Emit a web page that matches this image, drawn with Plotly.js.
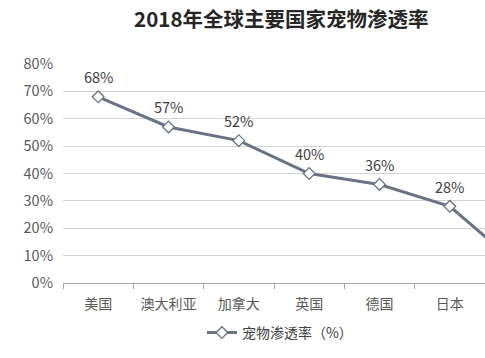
<!DOCTYPE html>
<html>
<head>
<meta charset="utf-8">
<script src="https://cdn.plot.ly/plotly-3.0.1.min.js"></script>
<style>html,body{margin:0;padding:0;background:#fff;overflow:hidden}</style>
</head>
<body>
<div id="chart" style="width:485px;height:358px"></div>
<script>
const categories = ["美国", "澳大利亚", "加拿大", "英国", "德国", "日本", "中国"];
const penetration = [68, 57, 52, 40, 36, 28, 6];
const valueLabels = ["68%", "57%", "52%", "40%", "36%", "28%", "6%"];
const yTicks = [0, 10, 20, 30, 40, 50, 60, 70, 80];
const yTickLabels = ["0%", "10%", "20%", "30%", "40%", "50%", "60%", "70%", "80%"];

const font = "'Noto Sans CJK SC', 'Noto Sans', sans-serif";
const lineColor = "#6a7283";

const trace = {
  x: categories,
  y: penetration,
  type: "scatter",
  mode: "lines+markers",
  name: "宠物渗透率（%）",
  line: {color: lineColor, width: 3},
  marker: {symbol: "diamond", size: 9, color: "#ffffff", line: {color: lineColor, width: 1.3}},
  cliponaxis: true
};

const annotations = categories.map((c, i) => ({
  x: c, y: penetration[i], xref: "x", yref: "y",
  text: valueLabels[i], showarrow: false, yshift: 20,
  font: {family: font, size: 14.5, color: "#404040"}
}));

const layout = {
  width: 485, height: 358,
  margin: {l: 63, r: 0, t: 64, b: 75, autoexpand: false},
  paper_bgcolor: "#ffffff", plot_bgcolor: "#ffffff",
  title: {
    text: "<b>2018年全球主要国家宠物渗透率</b>",
    font: {family: font, size: 20.5, color: "#262626"},
    xref: "container", x: 0.58, xanchor: "center",
    yref: "container", y: 0.944, yanchor: "middle"
  },
  xaxis: {
    type: "category",
    range: [-0.5, 5.5],
    automargin: false,
    showgrid: false,
    showline: true, linecolor: "#a6a6a6", linewidth: 1,
    ticks: "outside", tickson: "boundaries", ticklen: 5, tickcolor: "#a6a6a6",
    tickfont: {family: font, size: 14, color: "#595959"},
    tickangle: 0,
    ticklabelstandoff: 8,
    zeroline: false
  },
  yaxis: {
    range: [0, 80],
    automargin: false,
    tickvals: yTicks, ticktext: yTickLabels,
    showgrid: true, gridcolor: "#d4d4d4", gridwidth: 1,
    zeroline: false, showline: false,
    tickfont: {family: font, size: 14.5, color: "#595959"},
    ticklabelstandoff: 9
  },
  showlegend: true,
  legend: {
    orientation: "h", x: 0.514, xref: "paper", xanchor: "center",
    y: -0.228, yanchor: "middle",
    font: {family: font, size: 14, color: "#404040"}
  },
  annotations: annotations
};

Plotly.newPlot("chart", [trace], layout, {displayModeBar: false, staticPlot: true});
</script>
</body>
</html>
